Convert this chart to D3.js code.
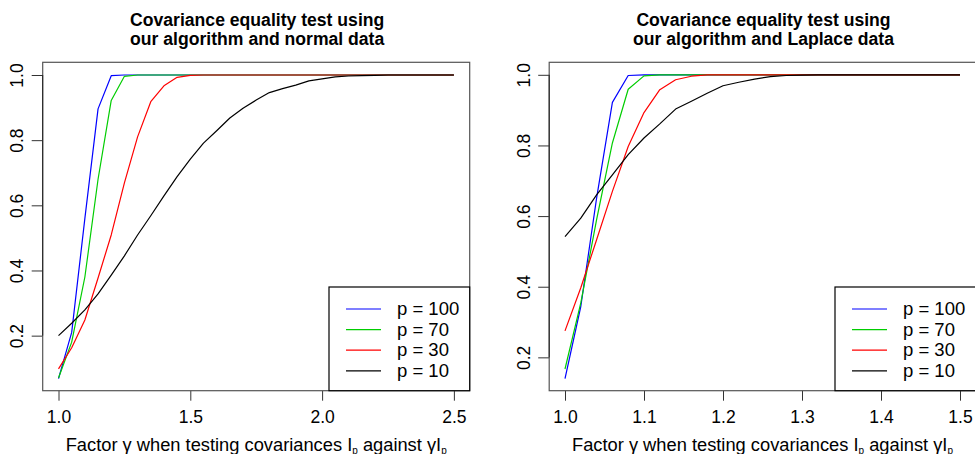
<!DOCTYPE html>
<html>
<head>
<meta charset="utf-8">
<script src="https://cdn.jsdelivr.net/npm/d3@7"></script>
<style>
  body { margin: 0; background: #fff; }
  svg { display: block; font-family: "Liberation Sans", Arial, Helvetica, sans-serif; }
</style>
</head>
<body>
<svg id="chart" width="975" height="454"></svg>
<script>
// left panel: normal data, gamma 1.0 .. 2.5 by 0.05
var gammaNormal = [1.00, 1.05, 1.10, 1.15, 1.20, 1.25, 1.30, 1.35, 1.40, 1.45, 1.50, 1.55, 1.60, 1.65, 1.70, 1.75,
    1.80, 1.85, 1.90, 1.95, 2.00, 2.05, 2.10, 2.15, 2.20, 2.25, 2.30, 2.35, 2.40, 2.45, 2.50];
var normalP100 = [0.068, 0.21, 0.56, 0.896, 0.998, 1, 1, 1, 1, 1, 1, 1, 1, 1, 1, 1,
    1, 1, 1, 1, 1, 1, 1, 1, 1, 1, 1, 1, 1, 1, 1];
var normalP70 = [0.07, 0.18, 0.38, 0.68, 0.922, 0.996, 1, 1, 1, 1, 1, 1, 1, 1, 1, 1,
    1, 1, 1, 1, 1, 1, 1, 1, 1, 1, 1, 1, 1, 1, 1];
var normalP30 = [0.098, 0.163, 0.248, 0.377, 0.509, 0.669, 0.81, 0.918, 0.967, 0.993, 0.999, 1, 1, 1, 1, 1,
    1, 1, 1, 1, 1, 1, 1, 1, 1, 1, 1, 1, 1, 1, 1];
var normalP10 = [0.2, 0.238, 0.279, 0.328, 0.386, 0.445, 0.509, 0.568, 0.629, 0.688, 0.742, 0.791, 0.829, 0.868, 0.898, 0.923,
    0.946, 0.958, 0.969, 0.982, 0.988, 0.994, 0.997, 0.998, 0.999, 1, 1, 1, 1, 1, 1];

// right panel: Laplace data, gamma 1.0 .. 1.5 by 0.02
var gammaLaplace = [1.00, 1.02, 1.04, 1.06, 1.08, 1.10, 1.12, 1.14, 1.16, 1.18, 1.20, 1.22, 1.24,
    1.26, 1.28, 1.30, 1.32, 1.34, 1.36, 1.38, 1.40, 1.42, 1.44, 1.46, 1.48, 1.50];
var laplaceP100 = [0.14, 0.344, 0.651, 0.922, 0.998, 1, 1, 1, 1, 1, 1, 1, 1,
    1, 1, 1, 1, 1, 1, 1, 1, 1, 1, 1, 1, 1];
var laplaceP70 = [0.167, 0.354, 0.59, 0.807, 0.959, 0.997, 1, 1, 1, 1, 1, 1, 1,
    1, 1, 1, 1, 1, 1, 1, 1, 1, 1, 1, 1, 1];
var laplaceP30 = [0.275, 0.397, 0.533, 0.67, 0.797, 0.893, 0.958, 0.986, 0.996, 1, 1, 1, 1,
    1, 1, 1, 1, 1, 1, 1, 1, 1, 1, 1, 1, 1];
var laplaceP10 = [0.542, 0.594, 0.66, 0.717, 0.774, 0.821, 0.861, 0.903, 0.925, 0.948, 0.969, 0.979, 0.988,
    0.995, 0.998, 0.999, 1, 1, 1, 1, 1, 1, 1, 1, 1, 1];

var seriesLabels = ["p = 100", "p = 70", "p = 30", "p = 10"];
var seriesColors = ["#0000FF", "#00CD00", "#FF0000", "#000000"];
var yTicks = [0.2, 0.4, 0.6, 0.8, 1.0];
var xTicksNormal = [1.0, 1.5, 2.0, 2.5];
var xTicksLaplace = [1.0, 1.1, 1.2, 1.3, 1.4, 1.5];

var svg = d3.select("#chart");

var panels = [
    {
        title: ["Covariance equality test using", "our algorithm and normal data"],
        x: gammaNormal,
        ys: [normalP100, normalP70, normalP30, normalP10],
        xTicks: xTicksNormal,
        left: 42.7, right: 469.7,
        yDomain: [0.031, 1.039],
        legendLeft: 329
    },
    {
        title: ["Covariance equality test using", "our algorithm and Laplace data"],
        x: gammaLaplace,
        ys: [laplaceP100, laplaceP70, laplaceP30, laplaceP10],
        xTicks: xTicksLaplace,
        left: 549.2, right: 975.8,
        yDomain: [0.1056, 1.0354],
        legendLeft: 835
    }
];

var plotTop = 62.3, plotBottom = 390.7;

panels.forEach(function(p) {
    var xExt = d3.extent(p.x);
    var pad = (xExt[1] - xExt[0]) * 0.04;
    var X = d3.scaleLinear()
        .domain([xExt[0] - pad, xExt[1] + pad])
        .range([p.left, p.right]);
    var Y = d3.scaleLinear()
        .domain(p.yDomain)
        .range([plotBottom, plotTop]);

    var g = svg.append("g");
    var cx = (p.left + p.right) / 2;

    // title
    g.selectAll(".title")
        .data(p.title)
        .enter().append("text")
        .attr("x", cx + 1)
        .attr("y", function(d, i) { return 25.5 + i * 19.5; })
        .attr("text-anchor", "middle")
        .attr("font-weight", "bold")
        .attr("font-size", "17.6px")
        .text(function(d) { return d; });

    // curves
    var line = d3.line()
        .x(function(d) { return X(d[0]); })
        .y(function(d) { return Y(d[1]); });

    p.ys.forEach(function(ys, i) {
        g.append("path")
            .datum(d3.zip(p.x, ys))
            .attr("fill", "none")
            .attr("stroke", seriesColors[i])
            .attr("stroke-width", 1.2)
            .attr("stroke-linejoin", "round")
            .attr("d", line);
    });

    // axes
    var xAxis = d3.axisBottom(X)
        .tickValues(p.xTicks)
        .tickFormat(d3.format(".1f"))
        .tickSize(10)
        .tickSizeOuter(0);
    var gx = g.append("g")
        .attr("transform", "translate(0," + plotBottom + ")")
        .call(xAxis);
    gx.select(".domain").remove();
    gx.selectAll("line").attr("stroke", "#333");
    gx.selectAll("text")
        .attr("font-size", "17.5px")
        .attr("font-family", null)
        .attr("fill", "#000")
        .attr("dy", null)
        .attr("y", 32);

    var yAxis = d3.axisLeft(Y)
        .tickValues(yTicks)
        .tickFormat(d3.format(".1f"))
        .tickSize(11)
        .tickSizeOuter(0);
    var gy = g.append("g")
        .attr("transform", "translate(" + p.left + ",0)")
        .call(yAxis);
    gy.select(".domain").remove();
    gy.selectAll("line").attr("stroke", "#333");
    gy.selectAll("text")
        .attr("font-size", "17.5px")
        .attr("font-family", null)
        .attr("fill", "#000")
        .attr("x", null)
        .attr("dy", null)
        .attr("text-anchor", "middle")
        .attr("transform", "translate(-19.5,0) rotate(-90)");

    // plot box
    g.append("rect")
        .attr("x", p.left)
        .attr("y", plotTop)
        .attr("width", p.right - p.left)
        .attr("height", plotBottom - plotTop)
        .attr("fill", "none")
        .attr("stroke", "#555")
        .attr("stroke-width", 1.2);

    // y axis line along the ticks
    g.append("line")
        .attr("x1", p.left).attr("x2", p.left)
        .attr("y1", Y(yTicks[0])).attr("y2", Y(yTicks[yTicks.length - 1]))
        .attr("stroke", "#222");

    // x label
    var lab = g.append("text")
        .attr("x", cx)
        .attr("y", 450.5)
        .attr("text-anchor", "middle")
        .attr("font-size", "18.3px");
    lab.append("tspan").text("Factor \u03b3 when testing covariances I");
    lab.append("tspan").attr("font-size", "10px").attr("dy", 3).text("p");
    lab.append("tspan").attr("dy", -3).text(" against \u03b3I");
    lab.append("tspan").attr("font-size", "10px").attr("dy", 3).text("p");

    // legend
    var lg = g.append("g");
    lg.append("rect")
        .attr("x", p.legendLeft)
        .attr("y", 287)
        .attr("width", p.right - p.legendLeft)
        .attr("height", plotBottom - 287)
        .attr("fill", "#fff")
        .attr("stroke", "#000")
        .attr("stroke-width", 1.2);
    var rows = lg.selectAll(".row")
        .data(seriesLabels)
        .enter().append("g")
        .attr("transform", function(d, i) { return "translate(" + p.legendLeft + "," + (309 + i * 20.6) + ")"; });
    rows.append("line")
        .attr("x1", 17).attr("x2", 52)
        .attr("stroke", function(d, i) { return seriesColors[i]; })
        .attr("stroke-width", 1.2);
    rows.append("text")
        .attr("x", 68)
        .attr("y", 6)
        .attr("font-size", "18.5px")
        .text(function(d) { return d; });
});
</script>
</body>
</html>
